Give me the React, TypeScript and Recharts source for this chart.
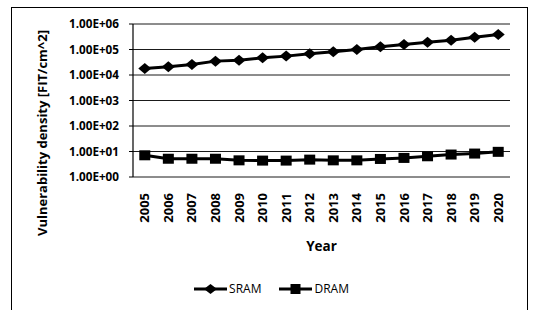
import React from 'react';
import {
  LineChart,
  Line,
  XAxis,
  YAxis,
  CartesianGrid,
  Legend,
} from 'recharts';

const years = [2005, 2006, 2007, 2008, 2009, 2010, 2011, 2012, 2013, 2014, 2015, 2016, 2017, 2018, 2019, 2020];
const sram = [18000, 21000, 26000, 35000, 38000, 47000, 55000, 68000, 81000, 100000, 127000, 157000, 193000, 230000, 300000, 385000];
const dram = [7.1, 5.2, 5.2, 5.2, 4.5, 4.4, 4.4, 4.8, 4.5, 4.5, 5.1, 5.6, 6.5, 7.6, 8.3, 9.7];
const yTicks = [1, 10, 100, 1000, 10000, 100000, 1000000];
const seriesNames = ['SRAM', 'DRAM'];

const data = years.map((year, i) => ({ year, SRAM: sram[i], DRAM: dram[i] }));
// tick marks sit between the years, like the original
const boundaries = [...years.map((y) => y - 0.5), years[years.length - 1] + 0.5];

const FONT = '"Open Sans", "Noto Sans", sans-serif';

const fmtSci = (v: number) => {
  const exp = Math.round(Math.log10(v));
  const mant = v / Math.pow(10, exp);
  return `${mant.toFixed(2)}E+${String(exp).padStart(2, '0')}`;
};

const Diamond = (props: any) => {
  const { cx, cy } = props;
  if (cx == null || cy == null) return null;
  return (
    <polygon
      points={`${cx - 6.5},${cy} ${cx},${cy - 5.5} ${cx + 6.5},${cy} ${cx},${cy + 5.5}`}
      fill="#000"
    />
  );
};

const Square = (props: any) => {
  const { cx, cy } = props;
  if (cx == null || cy == null) return null;
  return <rect x={cx - 5.5} y={cy - 5} width={11} height={10} fill="#000" />;
};

const YearTick = (props: any) => {
  const { x, y, payload } = props;
  const ty = y + 16;
  return (
    <text
      x={x}
      y={ty}
      dy="0.35em"
      transform={`rotate(-90, ${x}, ${ty})`}
      textAnchor="end"
      fill="#000"
      fontFamily={FONT}
      fontSize={13}
      fontWeight={700}
    >
      {payload.value}
    </text>
  );
};

const XLabel = (props: any) => {
  const vb = props.viewBox || {};
  return (
    <text
      x={vb.x + vb.width / 2}
      y={vb.y + 74}
      textAnchor="middle"
      fill="#000"
      fontFamily={FONT}
      fontSize={13.5}
      fontWeight={700}
    >
      Year
    </text>
  );
};

const YLabel = (props: any) => {
  const vb = props.viewBox || {};
  const x = vb.x + 42;
  const y = vb.y + 109;
  return (
    <text
      x={x}
      y={y}
      dy="0.35em"
      transform={`rotate(-90, ${x}, ${y})`}
      textAnchor="middle"
      fill="#000"
      fontFamily={FONT}
      fontSize={13}
      fontWeight={700}
    >
      Vulnerability density [FIT/cm^2]
    </text>
  );
};

const LegendContent = (props: any) => {
  const { payload = [] } = props;
  const items = seriesNames
    .map((n) => payload.find((p: any) => p.value === n))
    .filter(Boolean);
  return (
    <div style={{ display: 'flex', justifyContent: 'center', gap: 18, fontFamily: FONT, fontSize: 12 }}>
      {items.map((p: any) => (
        <div key={p.value} style={{ display: 'flex', alignItems: 'center' }}>
          <svg width={33} height={14}>
            <line x1={0} y1={7} x2={33} y2={7} stroke="#000" strokeWidth={3} />
            {p.value === 'SRAM' ? (
              <polygon points="10,7 16.5,2 23,7 16.5,12" fill="#000" />
            ) : (
              <rect x={11.5} y={2} width={10} height={10} fill="#000" />
            )}
          </svg>
          <span style={{ marginLeft: 2, color: '#000' }}>{p.value}</span>
        </div>
      ))}
    </div>
  );
};

export default function App() {
  return (
    <div style={{ position: 'absolute', left: 0, top: 0, width: 533, height: 310, overflow: 'hidden', background: '#fff' }}>
      <div
        style={{
          position: 'absolute',
          left: 11,
          top: 7,
          width: 515,
          height: 330,
          border: '1.5px solid #000',
        }}
      />
      <div style={{ position: 'absolute', left: 0, top: 0 }}>
        <LineChart width={533} height={310} data={data} margin={{ top: 24, right: 23, bottom: 73, left: 0 }}>
          <CartesianGrid vertical={false} stroke="#1a1a1a" xAxisId="yr" />
          <XAxis
            xAxisId="marks"
            dataKey="year"
            type="number"
            domain={[2004.5, 2020.5]}
            ticks={boundaries}
            interval={0}
            tick={false}
            tickSize={4}
            height={0}
            allowDataOverflow
            axisLine={{ stroke: '#000', strokeWidth: 1.2 }}
            tickLine={{ stroke: '#000' }}
          />
          <XAxis
            xAxisId="yr"
            dataKey="year"
            type="number"
            domain={[2004.5, 2020.5]}
            ticks={years}
            interval={0}
            allowDataOverflow
            axisLine={false}
            tickLine={false}
            tickSize={0}
            tickMargin={0}
            height={60}
            tick={<YearTick />}
            label={<XLabel />}
          />
          <YAxis
            type="number"
            scale="log"
            domain={[1, 1000000]}
            ticks={yTicks}
            interval={0}
            allowDataOverflow
            width={133}
            tickSize={4}
            tickMargin={10}
            tickFormatter={fmtSci}
            tick={{ fill: '#000', fontSize: 11.7, fontWeight: 700, fontFamily: FONT }}
            axisLine={{ stroke: '#000', strokeWidth: 1.2 }}
            tickLine={{ stroke: '#000' }}
            label={<YLabel />}
          />
          <Legend
            verticalAlign="middle"
            content={<LegendContent />}
            wrapperStyle={{ top: 280, left: 5, width: 533 }}
          />
          <Line
            xAxisId="yr"
            type="linear"
            dataKey="SRAM"
            stroke="#000"
            strokeWidth={3}
            dot={<Diamond />}
            isAnimationActive={false}
          />
          <Line
            xAxisId="yr"
            type="linear"
            dataKey="DRAM"
            stroke="#000"
            strokeWidth={3}
            dot={<Square />}
            isAnimationActive={false}
          />
        </LineChart>
      </div>
    </div>
  );
}
